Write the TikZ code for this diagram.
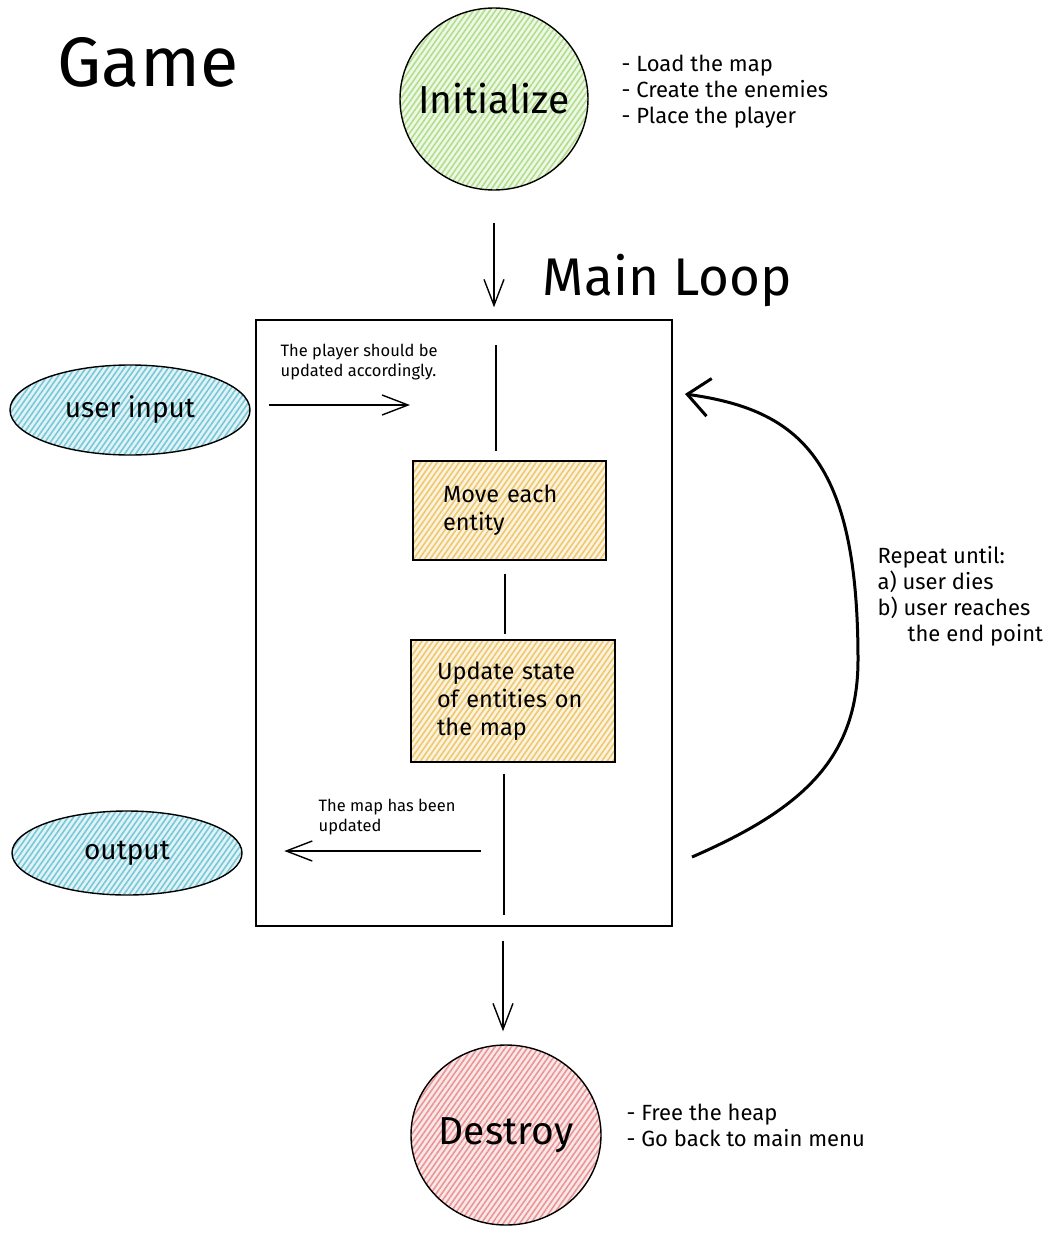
\documentclass[tikz,border=0pt]{standalone}
\usepackage{fontspec}
\setmainfont{Fira Sans}
\usetikzlibrary{arrows.meta,positioning,shapes.geometric,patterns.meta}

\definecolor{initgreen}{RGB}{178,222,140}
\definecolor{stepyellow}{RGB}{238,200,110}
\definecolor{iocyan}{RGB}{120,200,215}
\definecolor{endpink}{RGB}{234,150,150}

\begin{document}
\begin{tikzpicture}[
  x=1pt, y=-1pt,
  line width=1.3pt,
  hatch/.style={preaction={fill=#1!22}, preaction={pattern={Lines[angle=55,distance=4.5pt,line width=1.6pt]}, pattern color=#1}},
  title/.style={font=\fontsize{70}{74}\selectfont},
  heading/.style={font=\fontsize{53}{58}\selectfont},
  phase/.style={draw, ellipse, line width=1.4pt, inner sep=0pt},
  phasetext/.style={font=\fontsize{39}{44}\selectfont},
  io/.style={draw, ellipse, line width=1.4pt, inner sep=0pt, hatch=iocyan, font=\fontsize{28}{32}\selectfont},
  stepbox/.style={draw, rectangle, line width=1.4pt, inner sep=0pt, hatch=stepyellow, align=left,
                  font=\fontsize{23.5}{28}\selectfont},
  note/.style={align=left, inner sep=0pt, font=\fontsize{22}{26}\selectfont},
  small/.style={align=left, inner sep=0pt, font=\fontsize{16.5}{20}\selectfont},
  link/.style={line width=1.4pt},
  flow/.style={link, -{Straight Barb[length=26pt,width=20pt,line width=1.4pt]}},
  loopback/.style={line width=3pt, -{Straight Barb[length=22pt,width=38pt,line width=3pt]}},
]
\useasboundingbox (0,0) rectangle (1049,1236);

% ---- start / end phases --------------------------------------------------
\node[title] (game) at (148,62) {Game};
\node[phase, hatch=initgreen, minimum width=188pt, minimum height=182pt] (init) at (494,99) {};
\node[phasetext] (inittext) at (init.center) {Initialize};
\node[note, anchor=west] (initnotes) at (621,92) {- Load the map\\- Create the enemies\\- Place the player};

\node[heading, anchor=base west] (looptitle) at (539,295) {Main Loop};

\node[phase, hatch=endpink, minimum width=190pt, minimum height=180pt] (destroy) at (506,1135) {};
\node[phasetext] (destroytext) at (destroy.center) {Destroy};
\node[note, anchor=west] (endnotes) at (626,1125) {- Free the heap\\- Go back to main menu};

% ---- main loop frame and its steps ---------------------------------------
\node[draw, line width=1.4pt, minimum width=416pt, minimum height=606pt, inner sep=0pt] (mainbox) at (464,623) {};
\node[stepbox, minimum width=193pt, minimum height=99pt, text width=133pt] (move) at (509.5,510.5) {Move each\\entity};
\node[stepbox, minimum width=204pt, minimum height=122pt, text width=152pt] (update) at (513,701) {Update state\\of entities on\\the map};

% ---- outside world -------------------------------------------------------
\node[io, minimum width=240pt, minimum height=90pt] (input) at (130,410) {user input};
\node[io, minimum width=230pt, minimum height=84pt] (output) at (127,853) {output};

% ---- free ends -----------------------------------------------------------
\coordinate (loopin) at (496,345);
\coordinate (loopout) at (504,915);
\coordinate (inend) at (410,405);
\coordinate (outstart) at (481,851);
\coordinate (rptstart) at (692,857);
\coordinate (rptend) at (685,394);

% ---- vertical flow -------------------------------------------------------
\draw[flow, shorten <=32pt, shorten >=12pt] (init.south) -- (init.south |- mainbox.north);
\draw[link, shorten >=9pt] (loopin) -- (loopin |- move.north);
\draw[link, shorten <=13pt, shorten >=5pt] ([xshift=-4.5pt]move.south) -- ([xshift=-4.5pt]move.south |- update.north);
\draw[link, shorten <=11pt] (update.south -| loopout) -- (loopout);
\draw[flow, shorten <=14pt, shorten >=13pt] ([xshift=-3pt]destroy.north |- mainbox.south) -- ([xshift=-3pt]destroy.north);

% ---- input / output arrows -----------------------------------------------
\draw[flow, shorten <=14pt] (mainbox.west |- inend) -- (inend);
\node[small, anchor=north west] (innote) at (280,343) {The player should be\\updated accordingly.};
\draw[flow, shorten >=29pt] (outstart) -- (mainbox.west |- outstart);
\node[small, anchor=north west] (outnote) at (318,798) {The map has been\\updated};

% ---- repeat arc ----------------------------------------------------------
\draw[loopback] (rptstart) .. controls (800,810) and (858,760) .. (858,660)
                .. controls (858,460) and (800,410) .. (rptend);
\node[note, anchor=north west] (rptnote) at (877,546) {Repeat until:\\a) user dies\\b) user reaches\\\hspace*{30pt}the end point};

\end{tikzpicture}
\end{document}
